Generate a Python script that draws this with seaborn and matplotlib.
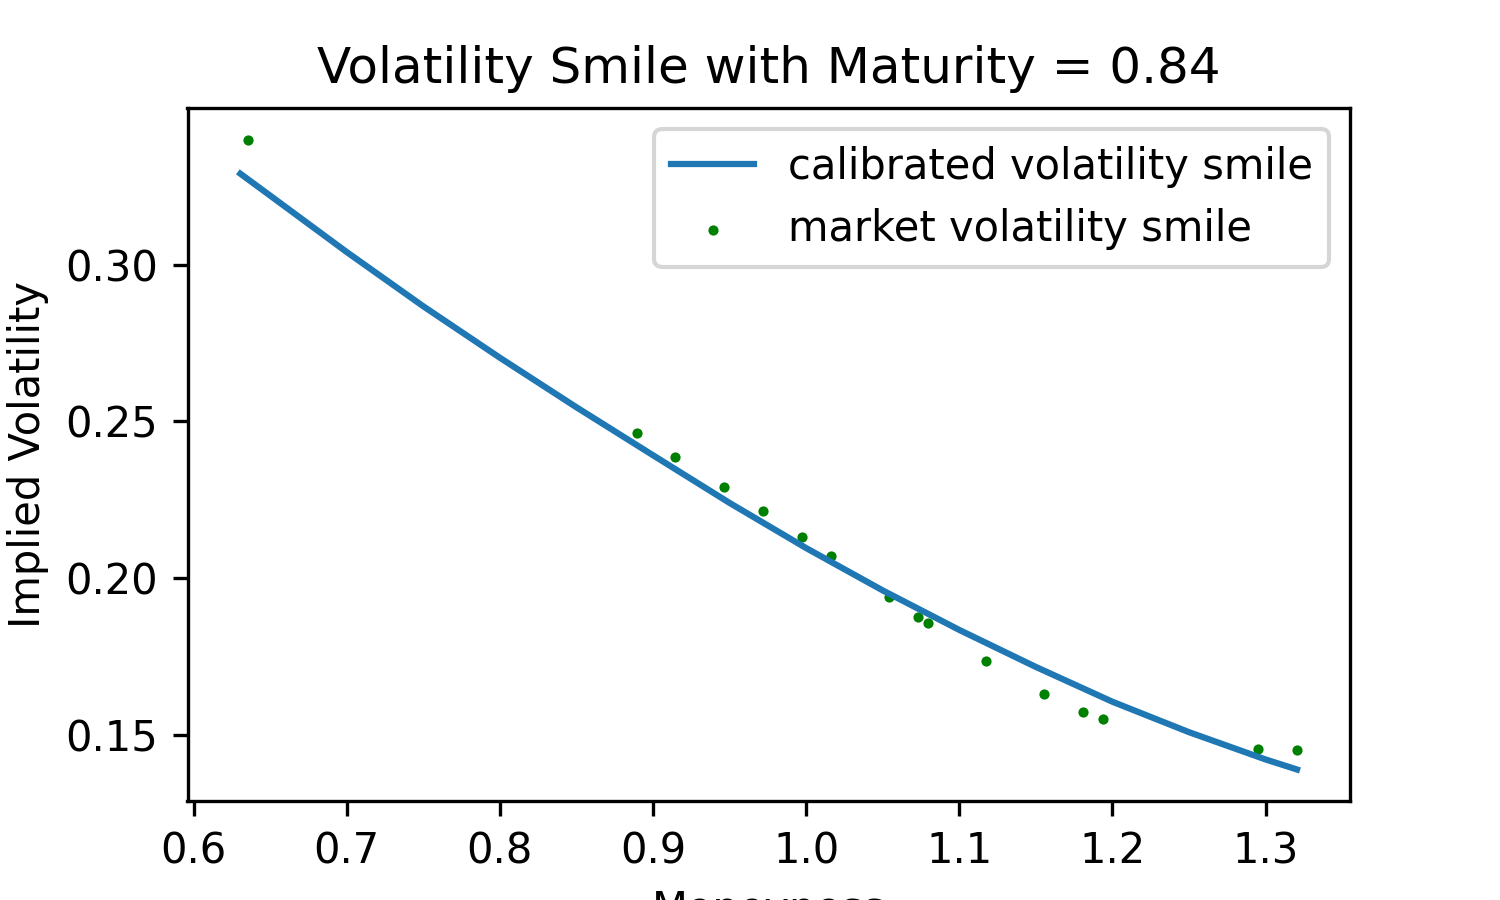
import numpy as np
import pandas as pd
import matplotlib
matplotlib.use('Agg')
import matplotlib.pyplot as plt
import seaborn as sns

# market implied vols
market_moneyness = [0.6357, 0.8892, 0.9146, 0.9464, 0.9719, 0.9975, 1.0165, 1.0541,
                    1.0732, 1.0798, 1.1176, 1.1555, 1.1809, 1.1940, 1.2952, 1.3206]
market_vol = [0.3399, 0.2463, 0.2386, 0.2290, 0.2214, 0.2132, 0.2071, 0.1939,
              0.1876, 0.1856, 0.1735, 0.1630, 0.1572, 0.1550, 0.1454, 0.1451]

# calibrated curve, sampled from the chart
calib_moneyness = [0.6305, 0.65, 0.70, 0.75, 0.80, 0.85, 0.90, 0.95, 1.00,
                   1.05, 1.10, 1.15, 1.20, 1.25, 1.30, 1.3205]
calib_vol = [0.3290, 0.3220, 0.3040, 0.2867, 0.2703, 0.2545, 0.2392, 0.2240, 0.2096,
             0.1961, 0.1835, 0.1717, 0.1606, 0.1509, 0.1422, 0.1390]

maturity = 0.84

market = pd.DataFrame({'Moneyness': market_moneyness, 'Implied Volatility': market_vol})
calib = pd.DataFrame({'Moneyness': calib_moneyness, 'Implied Volatility': calib_vol})

fig, ax = plt.subplots(figsize = (5, 3), dpi = 300)
sns.lineplot(data = calib, x = 'Moneyness', y = 'Implied Volatility', color = '#1f77b4',
             linewidth = 1.5, label = 'calibrated volatility smile', ax = ax)
sns.scatterplot(data = market, x = 'Moneyness', y = 'Implied Volatility', color = 'green',
                s = 6, linewidth = 0, label = 'market volatility smile', ax = ax)
ax.set_title(f'Volatility Smile with Maturity = {maturity}')
ax.set_xlabel('Moneyness')
ax.set_ylabel('Implied Volatility')
ax.legend(loc = 'upper right')
fig.savefig('out.png', dpi = 300)
